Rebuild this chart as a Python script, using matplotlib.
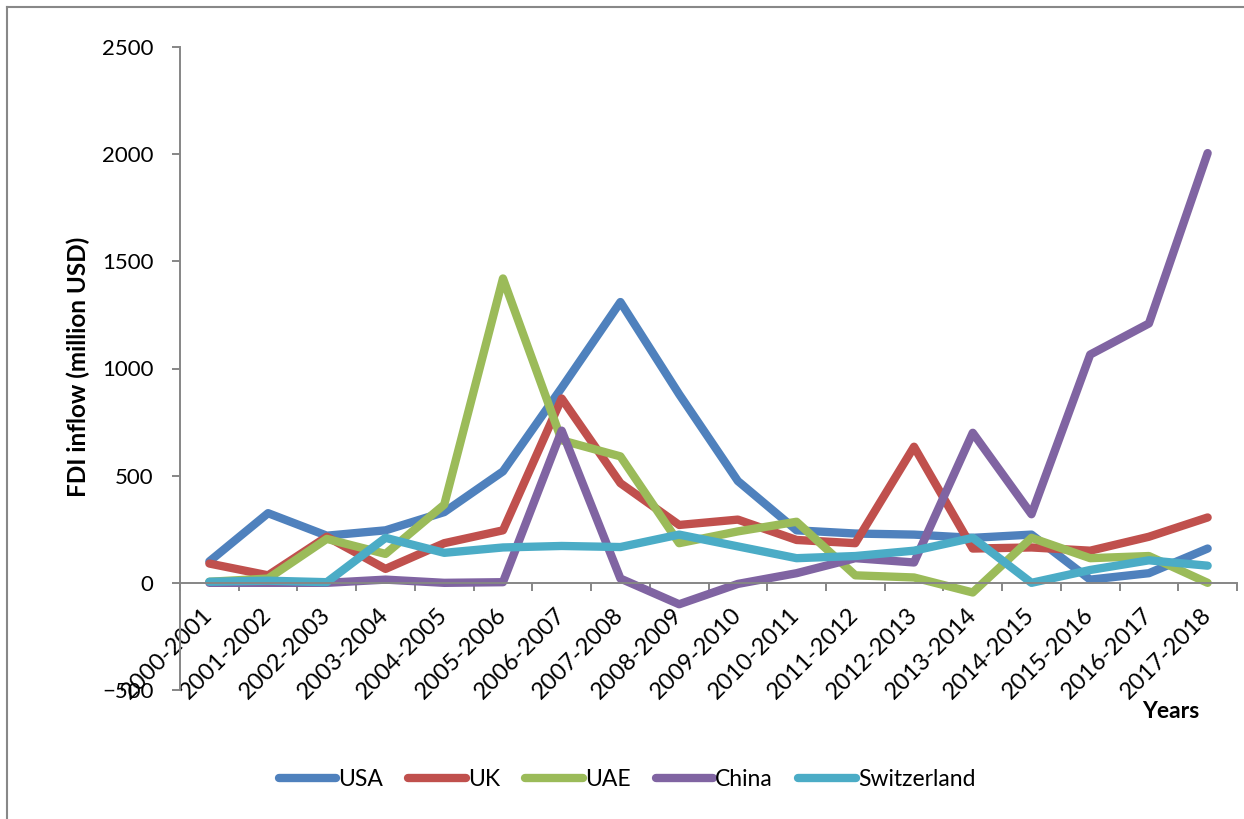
import matplotlib
matplotlib.use("Agg")
import matplotlib.pyplot as plt
from matplotlib.lines import Line2D
import numpy as np

years = ["2000-2001", "2001-2002", "2002-2003", "2003-2004", "2004-2005",
         "2005-2006", "2006-2007", "2007-2008", "2008-2009", "2009-2010",
         "2010-2011", "2011-2012", "2012-2013", "2013-2014", "2014-2015",
         "2015-2016", "2016-2017", "2017-2018"]

usa = [100, 325, 220, 245, 330, 520, 910, 1310, 880, 475, 245, 230, 225, 210, 225, 15, 45, 160]
uk = [90, 35, 215, 65, 185, 245, 860, 465, 270, 295, 200, 185, 635, 160, 165, 150, 215, 305]
uae = [5, 20, 205, 135, 365, 1420, 665, 590, 185, 240, 285, 35, 25, -45, 210, 115, 125, 0]
china = [0, 0, 0, 15, 0, 3, 710, 20, -100, -5, 45, 115, 95, 700, 320, 1065, 1210, 2005]
switzerland = [5, 10, 3, 210, 140, 165, 172, 167, 225, 170, 115, 125, 150, 210, 0, 60, 105, 80]

series = [("USA", usa, "#4F81BD"),
          ("UK", uk, "#C0504D"),
          ("UAE", uae, "#9BBB59"),
          ("China", china, "#8064A2"),
          ("Switzerland", switzerland, "#4BACC6")]

plt.rcParams["font.family"] = ["Lato", "DejaVu Sans"]

W, H = 1244, 819
fig = plt.figure(figsize=(W / 100, H / 100), dpi=100)
fig.patch.set_facecolor("white")

ax = fig.add_axes([180 / W, 1 - 690 / H, (1237 - 180) / W, (690 - 47) / H])
x = np.arange(len(years))
for name, vals, col in series:
    ax.plot(x, vals, color=col, lw=6, solid_capstyle="round",
            solid_joinstyle="round", label=name)

ax.set_xlim(-0.5, len(years) - 0.5)
ax.set_ylim(-500, 2500)
ax.set_yticks(np.arange(-500, 2501, 500))

axis_grey = "#868686"
for s in ["top", "right"]:
    ax.spines[s].set_visible(False)
ax.spines["bottom"].set_position(("data", 0))
ax.spines["bottom"].set_color(axis_grey)
ax.spines["left"].set_color(axis_grey)
ax.spines["bottom"].set_linewidth(1.4)
ax.spines["left"].set_linewidth(1.4)

ax.set_xticks(x)
ax.set_xticklabels(years, rotation=45, ha="right", va="center",
                   rotation_mode="anchor", fontsize=17)
ax.set_xticks(np.arange(-0.5, len(years), 1.0), minor=True)
ax.tick_params(axis="x", which="major", length=0, pad=21)
ax.tick_params(axis="x", which="minor", length=6, width=1.4, color=axis_grey,
               direction="out")
ax.tick_params(axis="y", length=6, width=1.4, color=axis_grey, pad=13,
               labelsize=16)

fig.text(78 / W, 1 - 367 / H, "FDI inflow (million USD)", rotation=90,
         ha="center", va="center", fontsize=17.5, fontweight="bold")
fig.text(1171 / W, 1 - 712 / H, "Years", ha="center", va="center",
         fontsize=16.5, fontweight="bold")

handles = [Line2D([0], [0], color=c, lw=6, solid_capstyle="round")
           for _, _, c in series]
fig.legend(handles, [n for n, _, _ in series], loc="center",
           bbox_to_anchor=(627 / W, 1 - 780 / H), ncol=5, frameon=False,
           fontsize=16.5, handlelength=2.5, handletextpad=0.1,
           columnspacing=1.1)

# chart frame
fig.add_artist(Line2D([7 / W, 1], [1 - 7 / H, 1 - 7 / H], color="#888888",
                      lw=1.5, transform=fig.transFigure))
fig.add_artist(Line2D([7 / W, 7 / W], [0, 1 - 7 / H], color="#888888",
                      lw=1.5, transform=fig.transFigure))

fig.savefig("out.png", dpi=100)
